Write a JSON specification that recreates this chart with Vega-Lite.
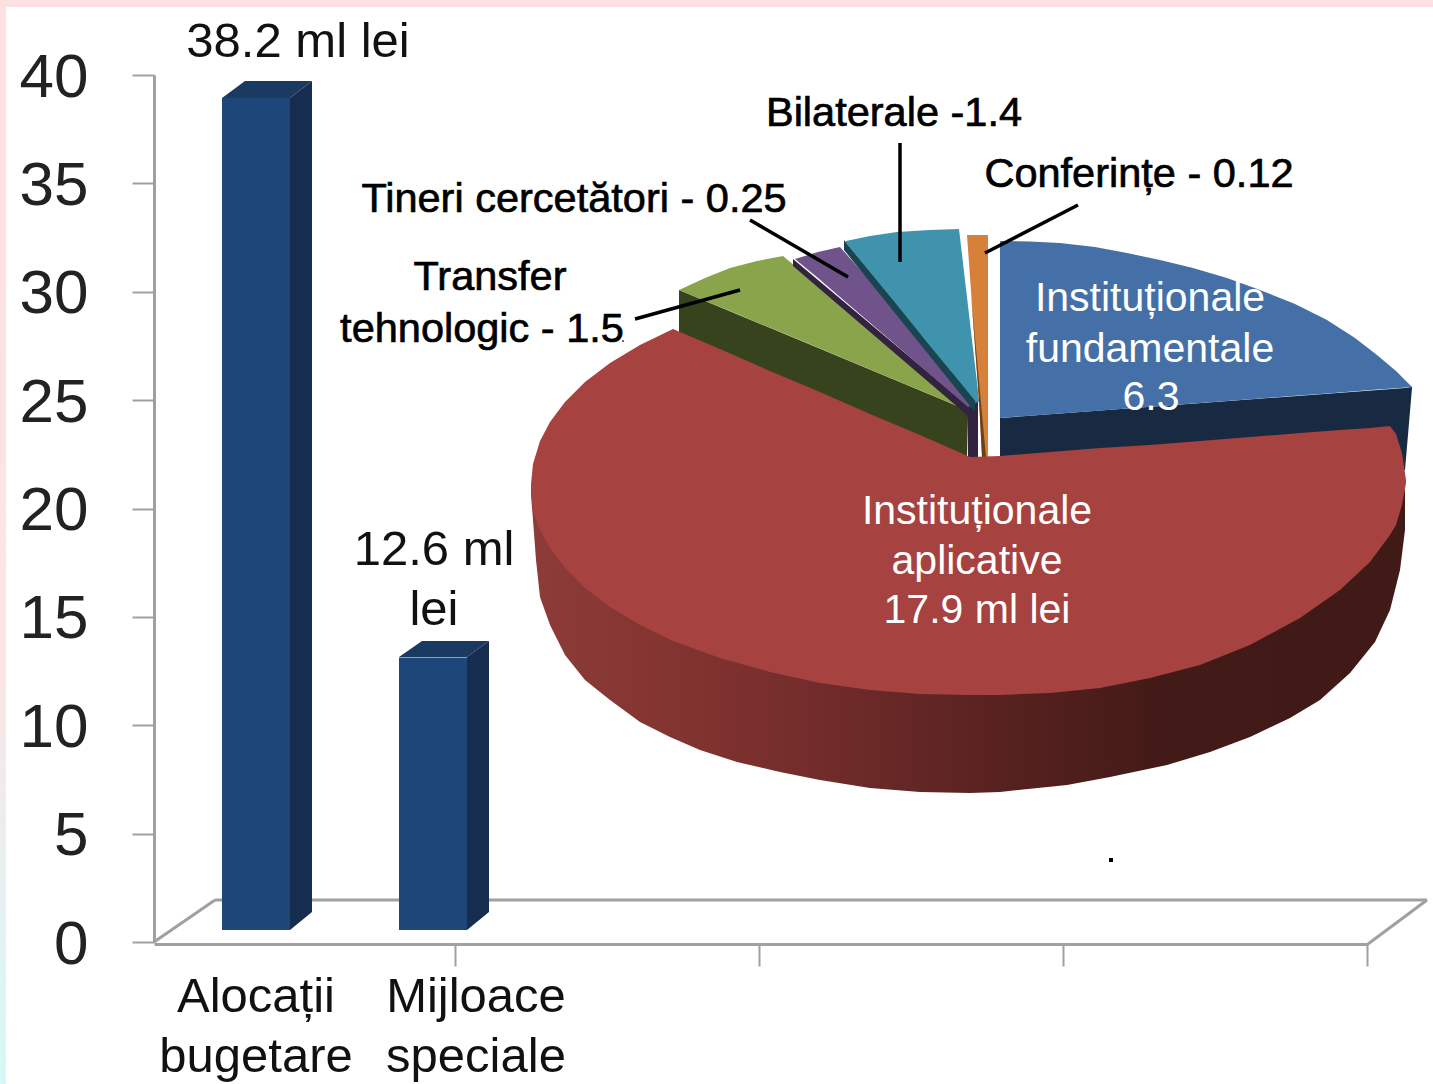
{
"$schema":"https://vega.github.io/schema/vega-lite/v6.json",
"autosize":{"type":"none"},
"padding":{"left":154,"top":75,"right":65,"bottom":142},
"width":1214,"height":867,
"background":"#ffffff",
"config":{"view":{"stroke":null},"font":"Liberation Sans"},
"datasets":{
"bars":[
{"category":"Alocații bugetare","x":222,"x2":290,"top":38.94,"base":0.55},
{"category":"Mijloace speciale","x":399,"x2":467,"top":13.13,"base":0.55}
],
"wall":[
{"x":531,"y":490,"y2":495},{"x":533,"y":490,"y2":520},{"x":536,"y":490,"y2":560},{"x":540,"y":490,"y2":597},{"x":550,"y":490,"y2":625},{"x":565,"y":490,"y2":655},{"x":585,"y":490,"y2":680},{"x":610,"y":490,"y2":700},{"x":640,"y":490,"y2":722},{"x":670,"y":490,"y2":737},{"x":700,"y":490,"y2":750},{"x":737,"y":490,"y2":762},{"x":780,"y":490,"y2":772},{"x":820,"y":490,"y2":780},{"x":870,"y":490,"y2":788},{"x":920,"y":490,"y2":792},{"x":970,"y":490,"y2":793},{"x":1000,"y":490,"y2":792},{"x":1067,"y":490,"y2":785},{"x":1110,"y":490,"y2":777},{"x":1167,"y":490,"y2":765},{"x":1210,"y":490,"y2":752},{"x":1250,"y":490,"y2":737},{"x":1290,"y":490,"y2":718},{"x":1320,"y":490,"y2":700},{"x":1350,"y":490,"y2":673},{"x":1375,"y":490,"y2":642},{"x":1390,"y":490,"y2":610},{"x":1400,"y":490,"y2":570},{"x":1405,"y":490,"y2":530}
],
"shapes":[
{"part":"bar 1 side","x":290,"y":98,"y2":930},{"part":"bar 1 side","x":312,"y":81,"y2":912},
{"part":"bar 1 top","x":222,"y":98,"y2":98},{"part":"bar 1 top","x":245,"y":81,"y2":98},{"part":"bar 1 top","x":290,"y":81,"y2":98},{"part":"bar 1 top","x":312,"y":81,"y2":81},
{"part":"bar 2 side","x":467,"y":657,"y2":930},{"part":"bar 2 side","x":489,"y":641,"y2":912},
{"part":"bar 2 top","x":399,"y":657,"y2":657},{"part":"bar 2 top","x":422,"y":641,"y2":657},{"part":"bar 2 top","x":467,"y":641,"y2":657},{"part":"bar 2 top","x":489,"y":641,"y2":641},
{"part":"fundamentale side","x":1000,"y":418,"y2":457},{"part":"fundamentale side","x":1405,"y":388,"y2":470},{"part":"fundamentale side","x":1412,"y":387,"y2":388},
{"part":"fundamentale","x":1000,"y":241,"y2":418},{"part":"fundamentale","x":1030,"y":241.5,"y2":415.7},{"part":"fundamentale","x":1060,"y":243,"y2":413.5},{"part":"fundamentale","x":1095,"y":247,"y2":410.9},{"part":"fundamentale","x":1127,"y":253,"y2":408.4},{"part":"fundamentale","x":1160,"y":260,"y2":406},{"part":"fundamentale","x":1193,"y":268,"y2":403.5},{"part":"fundamentale","x":1227,"y":278,"y2":400.9},{"part":"fundamentale","x":1260,"y":290,"y2":398.4},{"part":"fundamentale","x":1295,"y":304,"y2":395.8},{"part":"fundamentale","x":1327,"y":320,"y2":393.4},{"part":"fundamentale","x":1355,"y":338,"y2":391.3},{"part":"fundamentale","x":1377,"y":355,"y2":389.6},{"part":"fundamentale","x":1396,"y":371,"y2":388.2},{"part":"fundamentale","x":1412,"y":387,"y2":387},
{"part":"transfer side","x":679,"y":290,"y2":333},{"part":"transfer side","x":967,"y":410,"y2":457},
{"part":"transfer","x":679,"y":290,"y2":290},{"part":"transfer","x":705,"y":278,"y2":301},{"part":"transfer","x":730,"y":268,"y2":311},{"part":"transfer","x":757,"y":261,"y2":322.5},{"part":"transfer","x":783,"y":256,"y2":333},{"part":"transfer","x":967,"y":410,"y2":410},
{"part":"tineri side","x":793,"y":259,"y2":266},{"part":"tineri side","x":967,"y":405,"y2":415},{"part":"tineri side","x":968,"y":405,"y2":457},{"part":"tineri side","x":978,"y":400,"y2":457},
{"part":"tineri","x":795,"y":259,"y2":259},{"part":"tineri","x":818,"y":252,"y2":278},{"part":"tineri","x":840,"y":247,"y2":297},{"part":"tineri","x":968,"y":391,"y2":407},{"part":"tineri","x":978,"y":402,"y2":402},
{"part":"bilaterale side","x":844,"y":240,"y2":250},{"part":"bilaterale side","x":975,"y":398,"y2":412},
{"part":"bilaterale","x":846,"y":241,"y2":243},{"part":"bilaterale","x":870,"y":236,"y2":272},{"part":"bilaterale","x":897,"y":232,"y2":305},{"part":"bilaterale","x":930,"y":230,"y2":346},{"part":"bilaterale","x":959,"y":229,"y2":381},{"part":"bilaterale","x":976,"y":374,"y2":402},{"part":"bilaterale","x":979,"y":400,"y2":402},
{"part":"conferinte","x":967,"y":235,"y2":235},{"part":"conferinte","x":974,"y":235,"y2":333},{"part":"conferinte","x":979,"y":235,"y2":400},{"part":"conferinte","x":982,"y":235,"y2":457},{"part":"conferinte","x":988,"y":235,"y2":457},
{"part":"conferinte side","x":971,"y":295,"y2":295},{"part":"conferinte side","x":974,"y":327,"y2":333},{"part":"conferinte side","x":979,"y":381,"y2":400},{"part":"conferinte side","x":982,"y":414,"y2":457},{"part":"conferinte side","x":986,"y":457,"y2":457},
{"part":"aplicative","x":531,"y":484,"y2":490},{"part":"aplicative","x":533,"y":464,"y2":512},{"part":"aplicative","x":540,"y":441,"y2":530},{"part":"aplicative","x":550,"y":422,"y2":548},{"part":"aplicative","x":565,"y":402,"y2":568},{"part":"aplicative","x":585,"y":382,"y2":588},{"part":"aplicative","x":610,"y":363,"y2":607},{"part":"aplicative","x":640,"y":345,"y2":625},{"part":"aplicative","x":673,"y":329,"y2":641},{"part":"aplicative","x":720,"y":349,"y2":658},{"part":"aplicative","x":770,"y":371,"y2":672},{"part":"aplicative","x":820,"y":392,"y2":683},{"part":"aplicative","x":870,"y":414,"y2":690},{"part":"aplicative","x":920,"y":435,"y2":694},{"part":"aplicative","x":970,"y":457,"y2":695},{"part":"aplicative","x":1000,"y":456,"y2":695},{"part":"aplicative","x":1050,"y":452,"y2":693},{"part":"aplicative","x":1100,"y":448,"y2":688},{"part":"aplicative","x":1150,"y":445,"y2":678},{"part":"aplicative","x":1200,"y":441,"y2":665},{"part":"aplicative","x":1250,"y":437,"y2":645},{"part":"aplicative","x":1300,"y":433,"y2":618},{"part":"aplicative","x":1340,"y":430,"y2":590},{"part":"aplicative","x":1370,"y":428,"y2":562},{"part":"aplicative","x":1390,"y":426,"y2":535},{"part":"aplicative","x":1396,"y":434,"y2":525},{"part":"aplicative","x":1402,"y":453,"y2":505},{"part":"aplicative","x":1406,"y":480,"y2":483}
],
"floor":[
{"x":154,"y":942,"x2":215,"y2":900},{"x":215,"y":900,"x2":1427,"y2":900},{"x":1368,"y":944,"x2":1427,"y2":900}
],
"leaders":[
{"x":900,"y":143,"x2":900,"y2":262},{"x":1078,"y":205,"x2":985,"y2":253},{"x":750,"y":220,"x2":848,"y2":277},{"x":635,"y":319,"x2":740,"y2":290}
],
"bigText":[
{"t":"38.2 ml lei","x":298,"y":57},{"t":"12.6 ml","x":434,"y":565},{"t":"lei","x":434,"y":625},
{"t":"Alocații","x":256,"y":1012},{"t":"bugetare","x":256,"y":1072},{"t":"Mijloace","x":476,"y":1012},{"t":"speciale","x":476,"y":1072}
],
"blackText":[
{"t":"Bilaterale -1.4","x":894,"y":126},{"t":"Conferințe - 0.12","x":1139,"y":187},{"t":"Tineri cercetători - 0.25","x":574,"y":212},{"t":"Transfer","x":490,"y":290},{"t":"tehnologic - 1.5","x":482,"y":342}
],
"whiteText":[
{"t":"Instituționale","x":1150,"y":311},{"t":"fundamentale","x":1150,"y":362},{"t":"6.3","x":1151,"y":410},
{"t":"Instituționale","x":977,"y":524},{"t":"aplicative","x":977,"y":574},{"t":"17.9 ml lei","x":977,"y":623}
],
"edgeTop":[{"x":0,"x2":1433,"y":0,"y2":7}],
"edgeLeft":[{"x":0,"x2":6,"y":0,"y2":1084}],
"dot":[{"x":1111,"y":860}],
"speck":[{"x":623,"y":341}]
},
"resolve":{"scale":{"y":"independent"}},
"layer":[
{
"encoding":{
"x":{"field":"x","type":"quantitative","scale":{"domain":[154,1368],"zero":false,"nice":false}},
"y":{"field":"y","type":"quantitative","scale":{"domain":[942,75],"zero":false,"nice":false},"axis":null}
},
"layer":[
{"data":{"name":"edgeTop"},"mark":{"type":"rect","color":"#fde0e2"},"encoding":{"x2":{"field":"x2"},"y2":{"field":"y2"}}},
{"data":{"name":"edgeLeft"},"mark":{"type":"rect","color":{"gradient":"linear","x1":0,"y1":0,"x2":0,"y2":1,"stops":[{"offset":0,"color":"#fde0e2"},{"offset":0.6,"color":"#fde4e6"},{"offset":0.85,"color":"#e4f2f2"},{"offset":1,"color":"#d6f8f8"}]}},"encoding":{"x2":{"field":"x2"},"y2":{"field":"y2"}}},
{"data":{"name":"floor"},"mark":{"type":"rule","color":"#a0a0a0","strokeWidth":3},"encoding":{"x2":{"field":"x2"},"y2":{"field":"y2"}}}
]
},
{
"data":{"name":"bars"},
"mark":{"type":"bar","color":"#1f4678"},
"encoding":{
"x":{"field":"x","type":"quantitative","scale":{"domain":[154,1368],"zero":false,"nice":false},"axis":{"values":[153,455,759,1063,1367],"labels":false,"title":null,"domainColor":"#a0a0a0","domainWidth":3,"tickColor":"#a0a0a0","tickWidth":2,"tickSize":22,"grid":false,"offset":2}},
"x2":{"field":"x2"},
"y":{"field":"top","type":"quantitative","scale":{"domain":[0,40],"nice":false},"axis":{"values":[0,5,10,15,20,25,30,35,40],"title":null,"grid":false,"domainColor":"#a0a0a0","domainWidth":3,"tickColor":"#a0a0a0","tickWidth":2,"tickSize":22,"labelFont":"Liberation Sans","labelFontSize":62,"labelColor":"#222222","labelPadding":44,"labelOffset":2,"labelOverlap":false,"labelBound":false,"labelFlush":false}},
"y2":{"field":"base"}
}
},
{
"encoding":{
"x":{"field":"x","type":"quantitative","scale":{"domain":[154,1368],"zero":false,"nice":false}},
"y":{"field":"y","type":"quantitative","scale":{"domain":[942,75],"zero":false,"nice":false},"axis":null}
},
"layer":[
{"data":{"name":"wall"},"mark":{"type":"area","color":{"gradient":"linear","x1":0,"y1":0,"x2":1,"y2":0,"stops":[{"offset":0,"color":"#8d3c38"},{"offset":0.2,"color":"#80322f"},{"offset":0.35,"color":"#6f2b2a"},{"offset":0.53,"color":"#582220"},{"offset":0.72,"color":"#431a17"},{"offset":1,"color":"#3f1a17"}]}},"encoding":{"y2":{"field":"y2"}}},
{"data":{"name":"shapes"},"mark":{"type":"area"},"encoding":{"y2":{"field":"y2"},"color":{"field":"part","type":"nominal","legend":null,"scale":{"domain":["bar 1 side","bar 1 top","bar 2 side","bar 2 top","fundamentale side","fundamentale","transfer side","transfer","tineri side","tineri","bilaterale side","bilaterale","conferinte","conferinte side","aplicative"],"range":["#172d50","#1a3a62","#172d50","#1a3a62","#182a42","#4570a7","#37431c","#8aa44c","#32243f","#70538a","#1a4450","#3f93ad","#d6803a","#6b4119","#a6423f"]}}}},
{"data":{"name":"leaders"},"mark":{"type":"rule","color":"#000000","strokeWidth":3.5},"encoding":{"x2":{"field":"x2"},"y2":{"field":"y2"}}},
{"data":{"name":"dot"},"mark":{"type":"point","shape":"square","filled":true,"color":"#000000","size":16,"opacity":1}},
{"data":{"name":"speck"},"mark":{"type":"point","shape":"square","filled":true,"color":"#cc4444","size":4,"opacity":1}},
{"data":{"name":"bigText"},"mark":{"type":"text","font":"Liberation Sans","fontSize":49,"color":"#111111","align":"center","baseline":"alphabetic"},"encoding":{"text":{"field":"t"}}},
{"data":{"name":"blackText"},"mark":{"type":"text","font":"Liberation Sans","fontSize":41.5,"color":"#000000","stroke":"#000000","strokeWidth":0.7,"align":"center","baseline":"alphabetic"},"encoding":{"text":{"field":"t"}}},
{"data":{"name":"whiteText"},"mark":{"type":"text","font":"Liberation Sans","fontSize":41,"color":"#ffffff","align":"center","baseline":"alphabetic"},"encoding":{"text":{"field":"t"}}}
]
}
]
}
